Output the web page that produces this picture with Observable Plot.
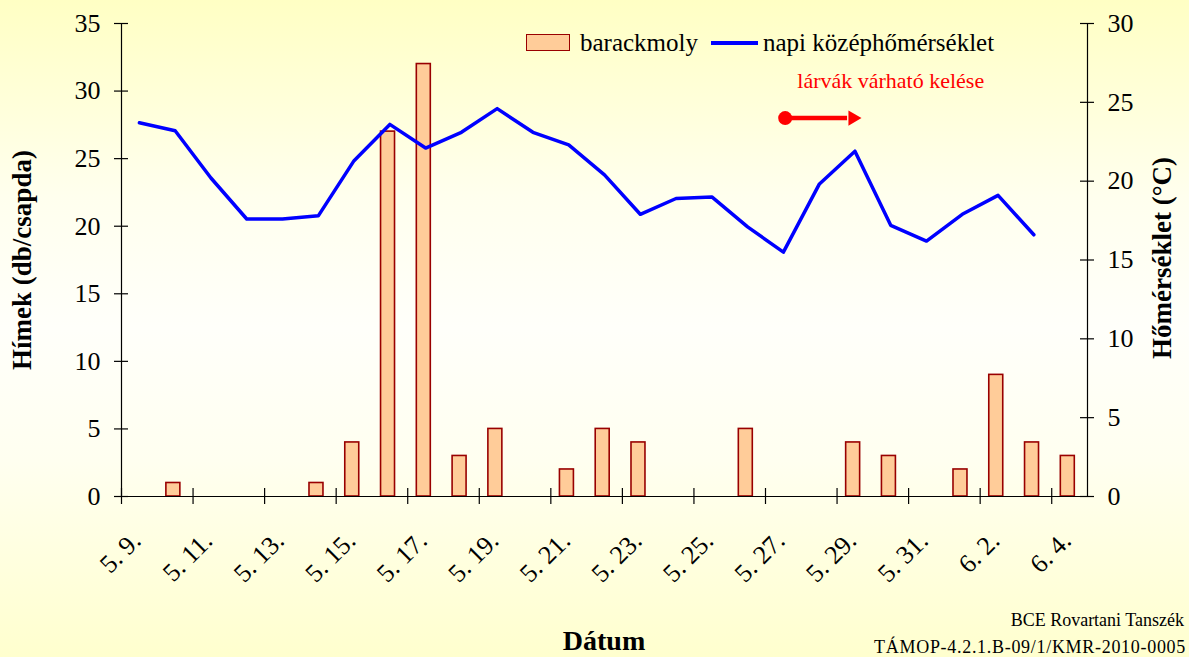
<!DOCTYPE html>
<html><head><meta charset="utf-8">
<script src="https://cdn.jsdelivr.net/npm/d3@7"></script>
<script src="https://cdn.jsdelivr.net/npm/@observablehq/plot@0.6"></script>
<style>
html,body{margin:0;padding:0;}
body{width:1189px;height:657px;overflow:hidden;background:linear-gradient(to bottom,#FFFFC4 0%,#FFFFEE 30%,#FFFFFA 50%,#FFFFF0 70%,#FFFFCE 100%);font-family:'Liberation Serif','Times New Roman',serif;}
#wrap{position:relative;width:1189px;height:657px;}
#wrap svg{position:absolute;left:0;top:0;}
.ov{position:absolute;white-space:nowrap;color:#000;}
</style></head><body><div id="wrap"></div>
<script>
// ---- data ----
const dates = ["5.9.","5.10.","5.11.","5.12.","5.13.","5.14.","5.15.","5.16.","5.17.","5.18.","5.19.","5.20.","5.21.","5.22.","5.23.","5.24.","5.25.","5.26.","5.27.","5.28.","5.29.","5.30.","5.31.","6.1.","6.2.","6.3.","6.4."];
const barackmoly = [0,1,0,0,0,1,4,27,32,3,5,0,2,5,4,0,0,5,0,0,4,3,0,2,9,4,3];
const temperature = [23.7,23.2,20.2,17.6,17.6,17.8,21.3,23.6,22.1,23.1,24.6,23.1,22.3,20.4,17.9,18.9,19.0,17.1,15.5,19.8,21.9,17.2,16.2,17.9,19.1,16.6];
const xTickLabels = ["5. 9.","5. 11.","5. 13.","5. 15.","5. 17.","5. 19.","5. 21.","5. 23.","5. 25.","5. 27.","5. 29.","5. 31.","6. 2.","6. 4."];
const leftTicks = [0,5,10,15,20,25,30,35];
const rightTicks = [0,5,10,15,20,25,30];
const seriesNames = ["barackmoly","napi középhőmérséklet"];
const annotationText = ["lárvák várható kelése"];
const annotationArrow = [{x1: 18.55, x2: 20.28, y: 28}];
const annotationLabelPos = [{x: 21.5, y: 30.75}];
const leftMax = 35, rightMax = 30;

// ---- build ----
const n = dates.length;
const toLeft = v => v * leftMax / rightMax;
const barData = dates.map((d,i)=>({i, date:d, v: barackmoly[i]})).filter(d=>d.v>0);
const tempData = temperature.map((t,i)=>({i, date: dates[i], t}));
const xTickPos = xTickLabels.map(l => dates.indexOf(l.replace(/ /g,"")));
const serif = "'Liberation Serif','Times New Roman',serif";

const plot = Plot.plot({
  width: 1189, height: 657,
  marginLeft: 121, marginRight: 102, marginTop: 23, marginBottom: 161,
  x: {type: "linear", domain: [0, n], axis: null},
  y: {domain: [0, leftMax], axis: null},
  style: {background: "transparent", fontFamily: serif, overflow: "visible", color: "black"},
  marks: [
    Plot.rectY(barData, {x1: "i", x2: d => d.i + 1, y1: 0, y2: "v", insetLeft: 9.1, insetRight: 12.7,
      fill: "#FFCC99", stroke: "#990000", strokeWidth: 1.6}),
    Plot.line(tempData, {x: d => d.i + 0.5, y: d => toLeft(d.t), stroke: "#0000FF", strokeWidth: 3.5}),
    // axis lines
    Plot.ruleX([0], {y1: 0, y2: leftMax, stroke: "black", strokeWidth: 1.2}),
    Plot.ruleX([n], {y1: 0, y2: leftMax, stroke: "black", strokeWidth: 1.2}),
    Plot.ruleY([0], {x1: 0, x2: n, stroke: "black", strokeWidth: 1.2}),
    // cross ticks
    Plot.ruleY(leftTicks, {y: d => d, x1: () => 0, x2: () => 0, insetLeft: -7, insetRight: -7, stroke: "black", strokeWidth: 1.2}),
    Plot.ruleY(rightTicks, {y: d => toLeft(d), x1: () => n, x2: () => n, insetLeft: -7, insetRight: -7, stroke: "black", strokeWidth: 1.2}),
    Plot.ruleX(xTickPos, {x: d => d, y1: () => 0, y2: () => 0, insetTop: -8, insetBottom: -8, stroke: "black", strokeWidth: 1.2}),
    // tick labels
    Plot.text(leftTicks, {x: () => 0, y: d => d, text: d => String(d), textAnchor: "end", dx: -21, fontSize: 26, fill: "black"}),
    Plot.text(rightTicks, {x: () => n, y: d => toLeft(d), text: d => String(d), textAnchor: "start", dx: 20, fontSize: 26, fill: "black"}),
    Plot.text(xTickLabels, {x: (d, i) => xTickPos[i], y: () => 0, text: d => d, rotate: -45, textAnchor: "end", dx: 15, dy: 40, fontSize: 26, fill: "black"}),
    // annotation
    Plot.link(annotationArrow, {x1: "x1", x2: "x2", y1: "y", y2: "y", stroke: "#FF0000", strokeWidth: 4.5}),
    Plot.dot(annotationArrow, {x: "x1", y: "y", r: 7, fill: "#FF0000"}),
    Plot.dot(annotationArrow, {x: d => d.x2 + 0.16, y: "y", r: 5.6, symbol: "triangle", rotate: 90, fill: "#FF0000"}),
    Plot.text(annotationLabelPos, {x: "x", y: "y", text: () => annotationText[0], fill: "#FF0000", fontSize: 22, letterSpacing: 1.5})
  ]
});
const wrap = document.getElementById("wrap");
wrap.appendChild(plot);

function ov(html, css){ const d = document.createElement("div"); d.className = "ov"; d.innerHTML = html; d.style.cssText += css; wrap.appendChild(d); return d; }
// legend
ov("", "left:526px;top:34px;width:44px;height:17px;background:#FFCC99;border:1.5px solid #990000;box-sizing:border-box;");
ov(seriesNames[0], "left:580px;top:28px;font-size:25px;line-height:30px;");
ov("", "left:711px;top:41px;width:47px;height:3.5px;background:#0000FF;");
ov(seriesNames[1], "left:763px;top:28px;font-size:25px;line-height:30px;");
// axis titles
ov("Hímek (db/csapda)", "left:22px;top:260px;font-size:27px;font-weight:bold;transform:translate(-50%,-50%) rotate(-90deg);");
ov("Hőmérséklet (°C)", "left:1162px;top:258px;font-size:27px;font-weight:bold;transform:translate(-50%,-50%) rotate(-90deg);");
ov("Dátum", "left:604px;top:641px;font-size:28px;font-weight:bold;transform:translate(-50%,-50%);");
// source
ov("BCE Rovartani Tanszék", "right:5px;top:609px;font-size:18px;line-height:22px;text-align:right;");
ov("TÁMOP-4.2.1.B-09/1/KMR-2010-0005", "right:3px;top:636px;font-size:18px;line-height:22px;text-align:right;letter-spacing:0.7px;");
</script>
</body></html>
